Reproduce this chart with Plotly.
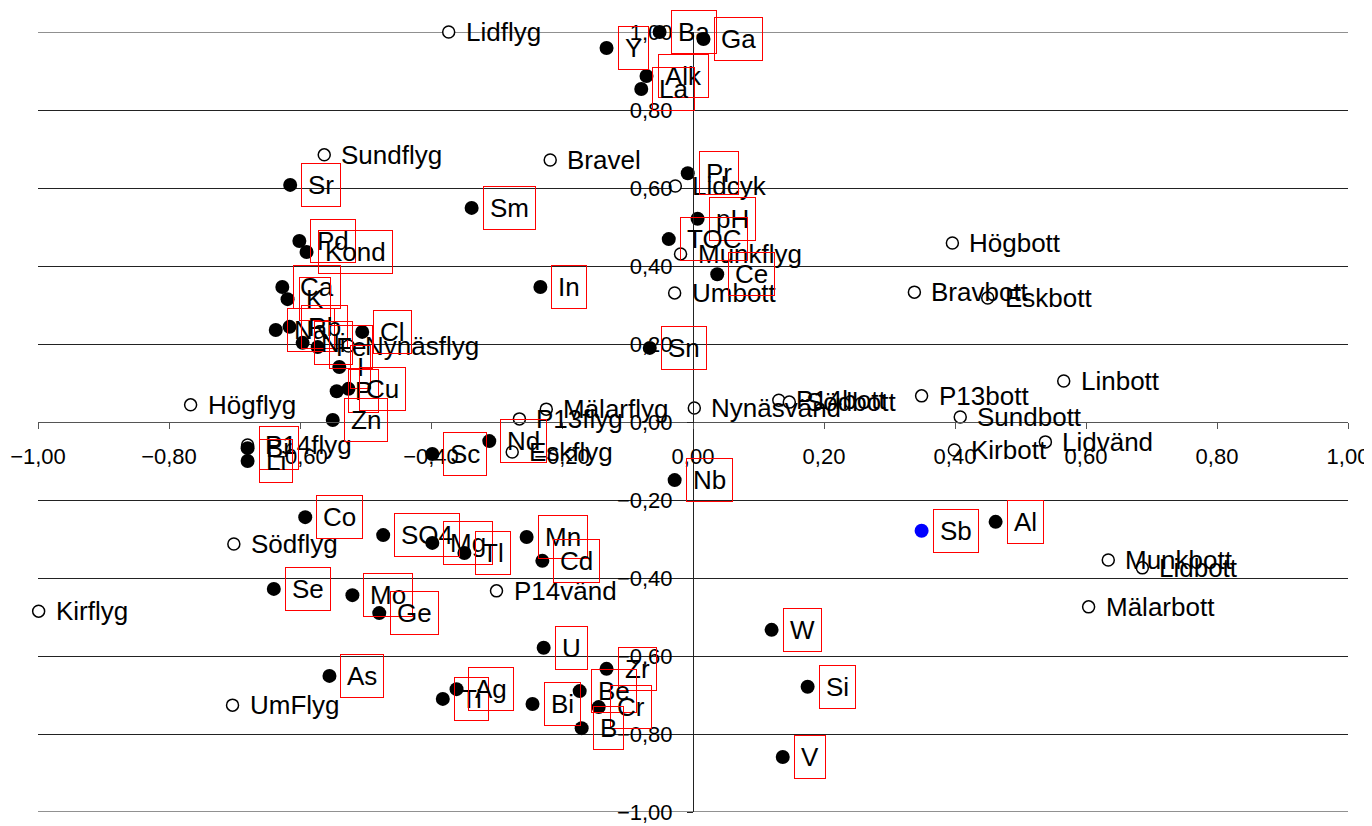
import plotly.graph_objects as go

# Variables (filled markers)
var_names = ["Ba", "Ga", "Y", "Alk", "La", "Pr", "pH", "TOC", "Ce", "Sn",
             "Sr", "Sm", "Pd", "Kond", "Ca", "K", "In", "Na", "Rb", "Ni", "Fe",
             "Cl", "I", "P", "Cu", "Zn", "Br", "Li", "Sc", "Nd", "Nb",
             "Co", "SO4", "Mg", "Tl", "Mn", "Cd", "Se", "Mo", "Ge",
             "U", "Zr", "Be", "Cr", "B", "Bi", "Ti", "Ag", "As",
             "W", "Si", "V", "Al", "Sb"]
var_x = [-0.051, 0.016, -0.132, -0.071, -0.079, -0.008, 0.007, -0.037, 0.037, -0.066,
         -0.615, -0.338, -0.601, -0.590, -0.627, -0.619, -0.233, -0.637, -0.616, -0.596, -0.573,
         -0.505, -0.540, -0.544, -0.526, -0.550, -0.680, -0.680, -0.398, -0.311, -0.028,
         -0.592, -0.473, -0.398, -0.349, -0.254, -0.230, -0.640, -0.520, -0.479,
         -0.228, -0.132, -0.173, -0.144, -0.170, -0.245, -0.382, -0.361, -0.555,
         0.120, 0.175, 0.137, 0.462, 0.349]
var_y = [1.000, 0.982, 0.959, 0.887, 0.854, 0.638, 0.521, 0.469, 0.379, 0.190,
         0.608, 0.549, 0.464, 0.436, 0.346, 0.315, 0.346, 0.236, 0.244, 0.203, 0.192,
         0.231, 0.141, 0.079, 0.085, 0.005, -0.067, -0.100, -0.082, -0.049, -0.149,
         -0.244, -0.290, -0.310, -0.336, -0.295, -0.356, -0.428, -0.444, -0.490,
         -0.579, -0.633, -0.690, -0.731, -0.785, -0.723, -0.710, -0.685, -0.651,
         -0.533, -0.679, -0.859, -0.256, -0.279]
highlight_var = "Sb"

# Sites (open markers)
site_names = ["Lidflyg", "Sundflyg", "Bravel", "Lidcyk", "Munkflyg", "Umbott",
              "Högbott", "Bravbott", "Eskbott", "Nynäsflyg", "Högflyg", "Linbott",
              "P13bott", "Sundbott", "Kirbott", "Lidvänd", "Nynäsvänd", "P14bott",
              "Södbott", "Mälarflyg", "P13flyg", "Eskflyg", "P14flyg", "Södflyg",
              "P14vänd", "Kirflyg", "UmFlyg", "Munkbott", "Lidbott", "Mälarbott",
              "Nynäsbott"]
site_x = [-0.373, -0.563, -0.218, -0.027, -0.019, -0.028,
          0.396, 0.338, 0.450, -0.526, -0.767, 0.566,
          0.349, 0.408, 0.399, 0.538, 0.002, 0.131,
          0.147, -0.224, -0.265, -0.276, -0.680, -0.701,
          -0.300, -0.999, -0.703, 0.634, 0.686, 0.604,
          0.389]
site_y = [1.000, 0.685, 0.672, 0.605, 0.431, 0.331,
          0.459, 0.333, 0.318, 0.195, 0.044, 0.105,
          0.067, 0.013, -0.072, -0.051, 0.036, 0.056,
          0.051, 0.033, 0.008, -0.077, -0.059, -0.313,
          -0.433, -0.485, -0.726, -0.354, -0.374, -0.474,
          -1.005]

tick_vals = [-1.0, -0.8, -0.6, -0.4, -0.2, 0.0, 0.2, 0.4, 0.6, 0.8, 1.0]

FONT = "Arial, Liberation Sans, sans-serif"
LABEL_SIZE = 26
GRID = "#222"

fig = go.Figure()

fig.add_trace(go.Scatter(
    x=site_x, y=site_y, mode="markers",
    marker=dict(symbol="circle", size=12, color="white",
                line=dict(color="black", width=1.5)),
    cliponaxis=False, hoverinfo="text", text=site_names, showlegend=False))

var_colors = ["#0000ff" if n == highlight_var else "black" for n in var_names]
fig.add_trace(go.Scatter(
    x=var_x, y=var_y, mode="markers",
    marker=dict(symbol="circle", size=14, color=var_colors, line=dict(width=0)),
    cliponaxis=False, hoverinfo="text", text=var_names, showlegend=False))

annotations = []
for n, x, y in zip(site_names, site_x, site_y):
    annotations.append(dict(x=x, y=y, xref="x", yref="y", text=n, showarrow=False,
                            xanchor="left", yanchor="middle", xshift=10,
                            borderpad=7, borderwidth=0,
                            font=dict(family=FONT, size=LABEL_SIZE, color="black")))
for n, x, y in zip(var_names, var_x, var_y):
    annotations.append(dict(x=x, y=y, xref="x", yref="y", text=n, showarrow=False,
                            xanchor="left", yanchor="middle", xshift=11,
                            borderpad=6, borderwidth=1, bordercolor="rgb(255,0,0)",
                            font=dict(family=FONT, size=LABEL_SIZE, color="black")))

# outer gridlines at the range ends (Plotly skips gridlines on the plot edges)
shapes = [dict(type="line", xref="paper", yref="y", x0=0, x1=1, y0=v, y1=v,
               line=dict(color=GRID, width=1), layer="below")
          for v in (tick_vals[0], tick_vals[-1])]

fig.update_layout(
    width=1372, height=826,
    margin=dict(l=30, r=32, t=24, b=22, autoexpand=False),
    paper_bgcolor="white", plot_bgcolor="white",
    separators=",.",
    annotations=annotations,
    shapes=shapes,
    font=dict(family=FONT, size=22, color="black"),
    xaxis=dict(range=[-1, 1], anchor="free", position=0.5, automargin=False,
               tickvals=tick_vals, tickformat=".2f",
               showgrid=False, zeroline=False,
               showline=True, linecolor="#555", linewidth=1,
               ticks="outside", ticklen=6, tickcolor="#555",
               ticklabelstandoff=9,
               tickfont=dict(family=FONT, size=22, color="black")),
    yaxis=dict(range=[-1, 1], anchor="free", position=0.5, automargin=False,
               tickvals=tick_vals, tickformat=".2f",
               showgrid=True, gridcolor=GRID, gridwidth=1,
               zeroline=False,
               showline=True, linecolor=GRID, linewidth=1,
               ticks="outside", ticklen=6, tickcolor=GRID,
               ticklabelstandoff=10,
               tickfont=dict(family=FONT, size=22, color="black")),
)

fig.write_html("out.html")
